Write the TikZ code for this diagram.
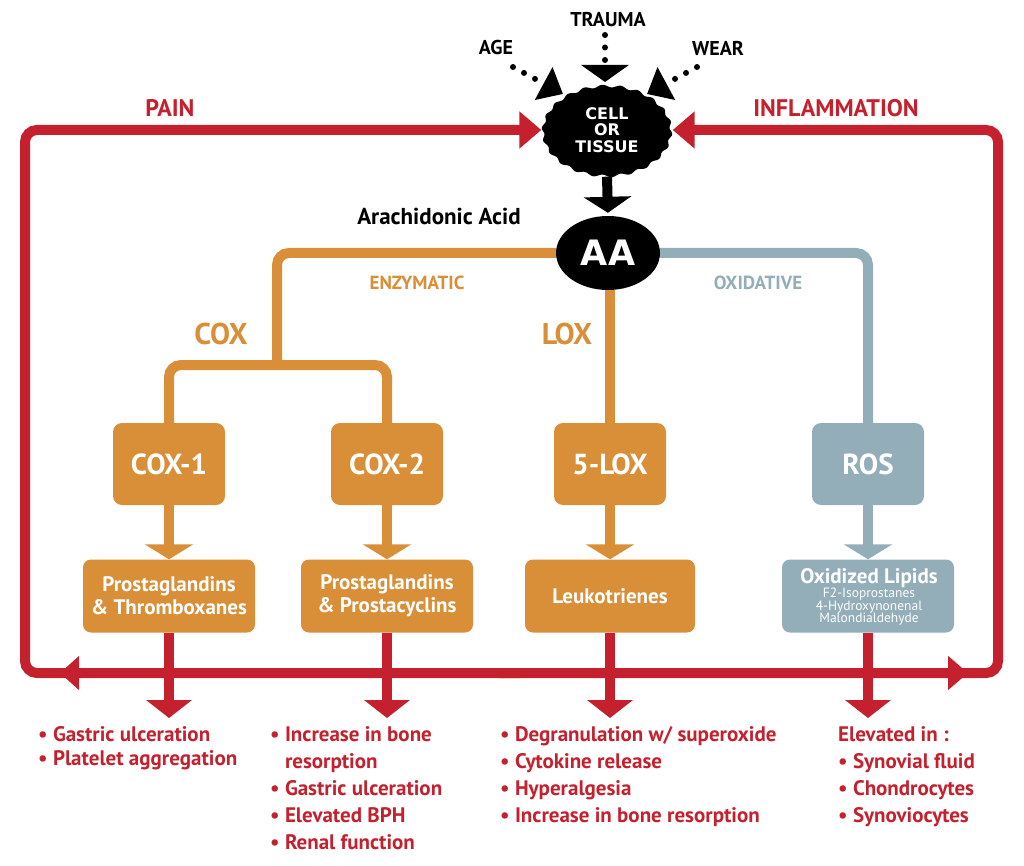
\documentclass[tikz,border=0pt]{standalone}
\usepackage{fontspec}
\setmainfont{PT Sans}
\newfontfamily\widefont{DejaVu Sans}
\usetikzlibrary{arrows.meta,shapes.geometric}
\definecolor{cred}{RGB}{196,32,46}
\definecolor{corange}{RGB}{216,143,55}
\definecolor{cblue}{RGB}{147,174,185}
\begin{document}
\begin{tikzpicture}[x=1pt,y=-1pt,
  redline/.style={draw=cred, line width=10pt},
  orline/.style={draw=corange, line width=10pt},
  blline/.style={draw=cblue, line width=10pt},
  dotline/.style={draw=black, line width=6pt, dash pattern=on 0pt off 12.5pt, line cap=round},
  enzbox/.style={fill=#1, rounded corners=9pt, minimum width=112pt, minimum height=82pt, inner sep=0pt, text=white, font=\bfseries\fontsize{29}{30}\selectfont},
  prodbox/.style={fill=#1, rounded corners=8pt, minimum width=172pt, minimum height=73pt, inner sep=0pt, text=white, align=center, font=\bfseries\fontsize{21}{23}\selectfont},
  toplabel/.style={font=\bfseries\fontsize{20}{20}\selectfont, text=black},
  looplabel/.style={font=\bfseries\fontsize{24}{24}\selectfont, text=cred},
  branchlabel/.style={font=\bfseries\fontsize{19}{19}\selectfont, text=#1},
  enzlabel/.style={font=\bfseries\fontsize{30}{30}\selectfont, text=corange},
  effects/.style={anchor=north west, inner sep=0pt, align=left, text=cred, font=\bfseries\fontsize{21}{#1}\selectfont},
  bigtri/.style={-{Triangle[width=45pt,length=18pt]}},
  looptri/.style={-{Triangle[width=36pt,length=22pt]}},
  boxtri/.style={-{Triangle[width=48pt,length=15pt]}}
]
\useasboundingbox (0,0) rectangle (1024,866);

% ---------- cell or tissue ----------
\fill[black] plot[domain=0:360, samples=361] ({607+(64+1.3*sin(22*\x))*cos(\x)}, {131+(45+1.3*sin(22*\x))*sin(\x)}) -- cycle;
\node[ellipse, minimum width=131pt, minimum height=93pt, inner sep=0pt, align=center, text=white,
      font=\widefont\bfseries\fontsize{16}{16.5}\selectfont] (cell) at (607,130) {CELL\\OR\\TISSUE};

% ---------- causes ----------
\node[toplabel] (age) at (496,48) {AGE};
\node[toplabel] (trauma) at (608,20) {TRAUMA};
\node[toplabel] (wear) at (718,48) {WEAR};
\coordinate (ages) at (513,67);
\coordinate (aget) at (563,94);
\coordinate (trs) at (605,35);
\coordinate (trt) at (605,82);
\coordinate (wes) at (697,67);
\coordinate (wet) at (647,94);
\draw[dotline, looptri] (ages) -- (aget);
\draw[dotline, -{Triangle[width=47pt,length=17pt]}] (trs) -- (trt);
\draw[dotline, looptri] (wes) -- (wet);

% ---------- arachidonic acid ----------
\node[ellipse, fill=black, minimum width=104pt, minimum height=74pt, inner sep=0pt, text=white,
      font=\widefont\bfseries\fontsize{35}{35}\selectfont] (aa) at (608,253) {AA};
\node[font=\bfseries\fontsize{23}{23}\selectfont] (aatxt) at (439,216) {Arachidonic Acid};
\draw[line width=10pt, -{Triangle[width=47pt,length=16pt]}, shorten >=3pt] (cell.south) -- (aa.north);

% ---------- enzyme boxes ----------
\node[enzbox=corange] (cox1) at (169,464) {COX-1};
\node[enzbox=corange] (cox2) at (387,464) {COX-2};
\node[enzbox=corange] (lox5) at (610,464) {5-LOX};
\node[enzbox=cblue]   (ros)  at (868,464) {ROS};

% ---------- product boxes ----------
\node[prodbox=corange] (p1) at (169,596) {Prostaglandins\\\& Thromboxanes};
\node[prodbox=corange] (p2) at (387,596) {Prostaglandins\\\& Prostacyclins};
\node[prodbox=corange, minimum width=170pt] (p3) at (610,596) {Leukotrienes};
\node[prodbox=cblue] (p4) at (868,596) {};
\node[text=white, inner sep=0pt, font=\bfseries\fontsize{21}{21}\selectfont] (p4t) at (869,578) {Oxidized Lipids};
\node[text=white, inner sep=0pt, align=center, font=\fontsize{13.5}{12.5}\selectfont] (p4s) at (869,607) {F2-Isoprostanes\\4-Hydroxynonenal\\Malondialdehyde};

% ---------- branches ----------
\coordinate (coxtop) at (277,253);
\coordinate (coxmid) at (277,365);
\coordinate (coxl) at (169,365);
\coordinate (coxr) at (387,365);
\coordinate (rostop) at (868,253);
\draw[orline, rounded corners=12pt] (aa.west) -- (coxtop) -- (coxmid);
\draw[orline, rounded corners=12pt] (cox1.north) -- (coxl) -- (coxr) -- (cox2.north);
\draw[orline] (lox5.north |- aa.south) -- (lox5.north);
\draw[blline, rounded corners=12pt] (aa.east) -- (rostop) -- (ros.north);

\node[branchlabel=corange] (enz) at (417,283) {ENZYMATIC};
\node[branchlabel=cblue] (oxi) at (758,283) {OXIDATIVE};
\node[enzlabel] (coxlab) at (221,334) {COX};
\node[enzlabel] (loxlab) at (567,334) {LOX};

% ---------- enzyme -> product ----------
\draw[orline, boxtri] (cox1.south) -- (p1.north);
\draw[orline, boxtri] (cox2.south) -- (p2.north);
\draw[orline, boxtri] (lox5.south) -- (p3.north);
\draw[blline, boxtri] (ros.south) -- (p4.north);

% ---------- red feedback loop ----------
\coordinate (bl) at (25,673);
\coordinate (tl) at (25,130);
\coordinate (br) at (998,673);
\coordinate (tr) at (998,130);
\coordinate (bm1) at (520,673);
\coordinate (bm2) at (500,673);
\draw[redline, rounded corners=12pt, looptri] (bm1) -- (bl) -- (tl) -- (cell.west);
\draw[redline, rounded corners=12pt, looptri] (bm2) -- (br) -- (tr) -- (cell.east);
\coordinate (la1) at (100,673);
\coordinate (la2) at (60,673);
\coordinate (ra1) at (930,673);
\coordinate (ra2) at (968,673);
\draw[redline, -{Triangle[width=33pt,length=19pt]}] (la1) -- (la2);
\draw[redline, -{Triangle[width=33pt,length=20pt]}] (ra1) -- (ra2);

\node[looplabel] (pain) at (170,108) {PAIN};
\node[looplabel] (infl) at (836,108) {INFLAMMATION};

% ---------- product -> effects ----------
\coordinate (e1) at (169,718);
\coordinate (e2) at (387,718);
\coordinate (e3) at (610,718);
\coordinate (e4) at (868,718);
\draw[redline, bigtri] (p1.south) -- (e1);
\draw[redline, bigtri] (p2.south) -- (e2);
\draw[redline, bigtri] (p3.south) -- (e3);
\draw[redline, bigtri] (p4.south) -- (e4);

% ---------- effects text ----------
\node[effects=24] (t1) at (38,726) {• Gastric ulceration\\• Platelet aggregation};
\node[effects=27] (t2) at (270,726) {• Increase in bone\\\phantom{• }resorption\\• Gastric ulceration\\• Elevated BPH\\• Renal function};
\node[effects=27] (t3) at (500,726) {• Degranulation w/ superoxide\\• Cytokine release\\• Hyperalgesia\\• Increase in bone resorption};
\node[effects=27] (t4) at (838,726) {Elevated in :\\• Synovial fluid\\• Chondrocytes\\• Synoviocytes};
\end{tikzpicture}
\end{document}
